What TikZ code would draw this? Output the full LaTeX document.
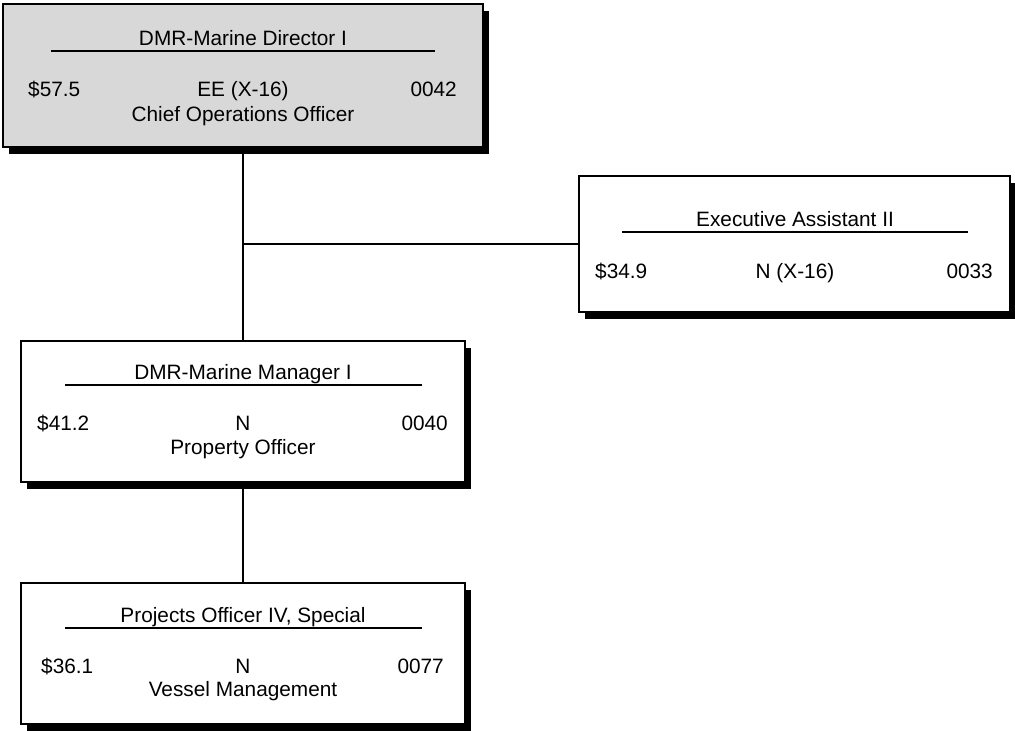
\documentclass[tikz,border=0pt]{standalone}
\usepackage{fontspec}
\setmainfont{Liberation Sans}
\usetikzlibrary{shadows}
\definecolor{boxgray}{RGB}{216,216,216}
\tikzset{
  orgbox/.style={rectangle, draw=black, line width=1.8pt, fill=white, inner sep=0pt,
    drop shadow={shadow xshift=6pt, shadow yshift=-6.5pt, fill=black, opacity=1}},
  txt/.style={inner sep=0pt, font=\fontsize{20.8}{24}\selectfont, anchor=base},
  txtl/.style={txt, anchor=base west},
  txtr/.style={txt, anchor=base east},
  rule/.style={line width=1.8pt},
  conn/.style={line width=1.8pt},
}
\begin{document}
\begin{tikzpicture}[x=1pt, y=-1pt]
\useasboundingbox (0,0) rectangle (1015,731);
% boxes
\node[orgbox, fill=boxgray, minimum width=480pt, minimum height=143pt] (b1) at (243,75.5) {};
\node[orgbox, minimum width=431pt, minimum height=136pt] (b2) at (794.5,244) {};
\node[orgbox, minimum width=444pt, minimum height=141pt] (b3) at (243,411.5) {};
\node[orgbox, minimum width=444pt, minimum height=141pt] (b4) at (243,653.5) {};
% connectors
\coordinate (j) at (243,244);
\draw[conn] (b1.south) -- (b3.north);
\draw[conn] (j) -- (b2.west);
\draw[conn] (b3.south) -- (b4.north);
% box 1
\node[txt] (t1a) at (243,45) {DMR-Marine Director I};
\draw[rule] (51,51) -- (435,51);
\node[txtl] (t1b) at (28,96.5) {\$57.5};
\node[txt] (t1c) at (243,96.5) {EE (X-16)};
\node[txtr] (t1d) at (457,96.5) {0042};
\node[txt] (t1e) at (243,121.5) {Chief Operations Officer};
% box 2
\node[txt] (t2a) at (795,226) {Executive Assistant II};
\draw[rule] (622,232) -- (968,232);
\node[txtl] (t2b) at (595,278) {\$34.9};
\node[txt] (t2c) at (795,278) {N (X-16)};
\node[txtr] (t2d) at (993,278) {0033};
% box 3
\node[txt] (t3a) at (243,379.5) {DMR-Marine Manager I};
\draw[rule] (65,385) -- (422,385);
\node[txtl] (t3b) at (37,430.5) {\$41.2};
\node[txt] (t3c) at (243,430.5) {N};
\node[txtr] (t3d) at (448,430.5) {0040};
\node[txt] (t3e) at (243,454) {Property Officer};
% box 4
\node[txt] (t4a) at (243,622) {Projects Officer IV, Special};
\draw[rule] (65,628) -- (422,628);
\node[txtl] (t4b) at (41,673) {\$36.1};
\node[txt] (t4c) at (243,673) {N};
\node[txtr] (t4d) at (444,673) {0077};
\node[txt] (t4e) at (243,696.5) {Vessel Management};
\end{tikzpicture}
\end{document}
